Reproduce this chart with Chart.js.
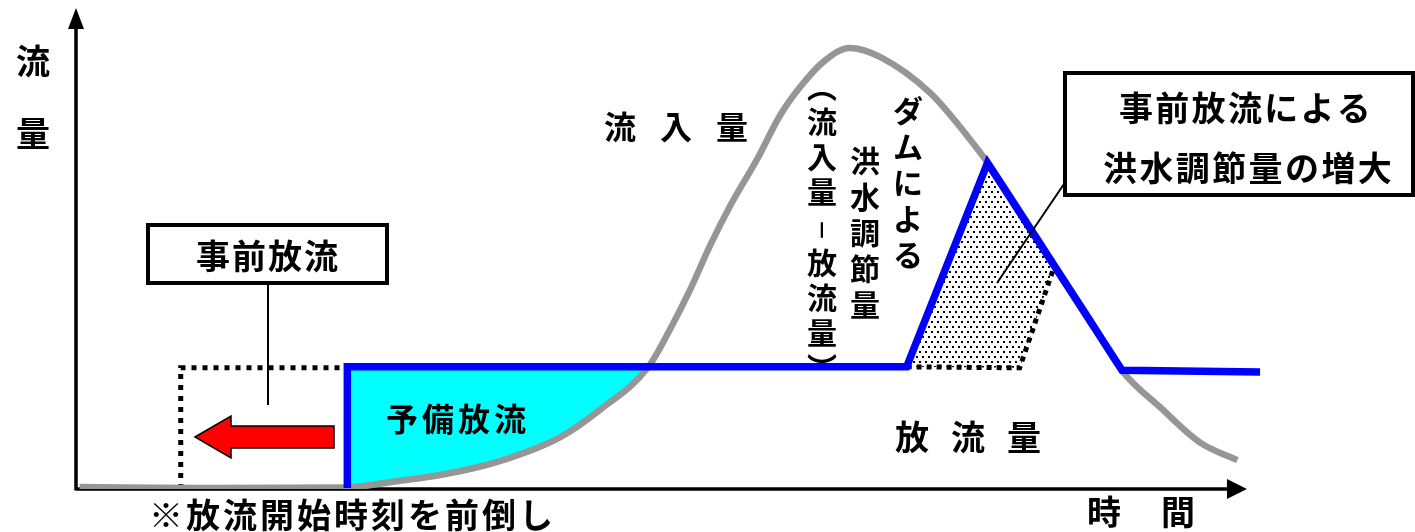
<!DOCTYPE html>
<html>
<head>
<meta charset="utf-8">
<script src="https://cdn.jsdelivr.net/npm/chart.js@4.4.1/dist/chart.umd.min.js"></script>
<style>
  html, body { margin: 0; padding: 0; background: #fff; }
  canvas { display: block; }
</style>
</head>
<body>
<canvas id="flowChart" width="1415" height="532"></canvas>
<script>
// time axis 0..100, flow axis 0..100 (relative units)
const inflowTime = [0.3, 10.4, 22.6, 27.2, 30.6, 35.6, 40.7, 44.0, 48.1, 49.9, 51.6, 53.3, 55.0, 57.2, 59.2, 60.8, 62.8, 65.0, 67.6, 71.8, 74.9, 76.8, 80.2, 82.7, 85.2, 87.9, 91.1, 94.5, 97.6];
const inflowFlow = [0.4, 0.2, 0.3, 1.7, 2.9, 5.8, 10.8, 16.4, 25.4, 33.1, 41.4, 50.7, 59.0, 68.4, 77.8, 83.4, 88.8, 91.7, 89.8, 82.3, 73.4, 67.2, 54.4, 44.8, 35.3, 24.6, 17.0, 9.6, 6.0];

const outflowTime = [22.8, 22.8, 69.8, 76.6, 87.9, 99.5];
const outflowFlow = [0.2, 25.4, 25.4, 67.8, 24.7, 24.3];

// 予備放流 (top edge of the cyan area)
const reserveTime = [22.8, 48.1];
const reserveFlow = [25.4, 25.4];

// 前倒し前の放流 (dotted outline)
const earlyTime = [8.8, 8.8, 22.8];
const earlyFlow = [0, 25.2, 25.2];

// 洪水調節量の増大 (dotted boundary of the dotted area)
const extraTime = [69.8, 79.3, 82.2];
const extraFlow = [25.4, 25.2, 46.2];

const axisEndTime = 98.4;

const pts = (xs, ys) => xs.map((x, i) => ({ x, y: ys[i] }));

const JP = '"Noto Sans CJK JP", "Noto Sans CJK SC", sans-serif';

// dot pattern
const pc = document.createElement('canvas');
pc.width = 6; pc.height = 10;
const pctx = pc.getContext('2d');
pctx.fillStyle = '#000';
pctx.fillRect(1, 1, 2, 2);
pctx.fillRect(4, 6, 2, 2);
const canvas = document.getElementById('flowChart');
const dots = canvas.getContext('2d').createPattern(pc, 'repeat');

function row(ctx, s, cx0, cy, step, size) {
    ctx.font = `bold ${size}px ${JP}`;
    ctx.textAlign = 'center';
    ctx.textBaseline = 'middle';
    [...s].forEach((c, i) => {
        if (c !== ' ') ctx.fillText(c, cx0 + i * step, cy);
    });
}

function col(ctx, s, cx, cy0, step, size) {
    ctx.font = `bold ${size}px ${JP}`;
    ctx.textAlign = 'center';
    ctx.textBaseline = 'middle';
    [...s].forEach((c, i) => {
        ctx.fillText(c, cx, cy0 + i * step);
    });
}

const sketch = {
    id: 'sketch',
    beforeDatasetsDraw(chart) {
        const { ctx, chartArea: a, scales: { x, y } } = chart;
        const x0 = x.getPixelForValue(0);
        const y0 = y.getPixelForValue(0);
        const xEnd = x.getPixelForValue(axisEndTime);
        ctx.save();
        ctx.strokeStyle = '#000';
        ctx.fillStyle = '#000';
        ctx.lineWidth = 3.5;
        ctx.beginPath();
        ctx.moveTo(x0, y0);
        ctx.lineTo(xEnd - 16, y0);
        ctx.moveTo(x0, y0 + 1.5);
        ctx.lineTo(x0, a.top + 16);
        ctx.stroke();
        ctx.beginPath();
        ctx.moveTo(xEnd, y0);
        ctx.lineTo(xEnd - 20, y0 - 10);
        ctx.lineTo(xEnd - 20, y0 + 10);
        ctx.closePath();
        ctx.moveTo(x0, a.top);
        ctx.lineTo(x0 - 8, a.top + 21);
        ctx.lineTo(x0 + 8, a.top + 21);
        ctx.closePath();
        ctx.fill();
        ctx.restore();
    },
    afterDatasetsDraw(chart) {
        const { ctx } = chart;
        ctx.save();
        ctx.fillStyle = '#000';
        ctx.strokeStyle = '#000';

        // leader lines
        ctx.lineWidth = 2;
        ctx.beginPath();
        ctx.moveTo(268, 283);
        ctx.lineTo(268, 405);
        ctx.moveTo(1066, 181);
        ctx.lineTo(997, 283);
        ctx.stroke();

        // boxes
        ctx.lineWidth = 4;
        ctx.fillStyle = '#fff';
        ctx.fillRect(148, 225, 239, 58);
        ctx.strokeRect(148, 225, 239, 58);
        ctx.fillRect(1065, 73, 348, 122);
        ctx.strokeRect(1065, 73, 348, 122);

        // red arrow
        ctx.beginPath();
        ctx.moveTo(195, 437);
        ctx.lineTo(231, 416);
        ctx.lineTo(231, 426);
        ctx.lineTo(334, 426);
        ctx.lineTo(334, 448);
        ctx.lineTo(231, 448);
        ctx.lineTo(231, 458);
        ctx.closePath();
        ctx.fillStyle = '#ff0000';
        ctx.fill();
        ctx.lineWidth = 1.5;
        ctx.strokeStyle = '#000';
        ctx.stroke();

        // labels
        ctx.fillStyle = '#000';
        row(ctx, '事前放流', 213, 256, 36, 34);
        row(ctx, '予備放流', 402, 419, 36, 32);
        row(ctx, '流入量', 620, 127, 56, 32);
        row(ctx, '放流量', 912, 437, 56, 34);
        col(ctx, '流量', 33, 61, 72, 34);
        row(ctx, '時間', 1104, 512, 74, 34);
        row(ctx, '※放流開始時刻を前倒し', 166, 515, 37, 34);
        row(ctx, '事前放流による', 1136, 108, 36.3, 34);
        row(ctx, '洪水調節量の増大', 1120, 168, 36.4, 34);
        col(ctx, 'ダムによる', 908, 111, 36, 30);
        col(ctx, '洪水調節量', 865, 161, 36, 30);
        col(ctx, '︵流入量', 822, 87, 35, 30);
        col(ctx, '放流量︶', 822, 263, 35, 30);
        ctx.save();
        ctx.translate(822, 230);
        ctx.rotate(Math.PI / 2);
        ctx.font = `bold 22px ${JP}`;
        ctx.textAlign = 'center';
        ctx.textBaseline = 'middle';
        ctx.fillText('－', 0, 0);
        ctx.restore();

        ctx.restore();
    }
};

new Chart(canvas, {
    type: 'line',
    data: {
        datasets: [
            {
                label: '放流量',
                data: pts(outflowTime, outflowFlow),
                borderColor: '#0000ff',
                borderWidth: 7.5,
                borderJoinStyle: 'miter',
                tension: 0,
                pointRadius: 0,
                fill: false,
                order: 0,
            },
            {
                label: '流入量',
                data: pts(inflowTime, inflowFlow),
                borderColor: '#969696',
                borderWidth: 6.5,
                cubicInterpolationMode: 'monotone',
                pointRadius: 0,
                fill: false,
                order: 1,
            },
            {
                label: '予備放流',
                data: pts(reserveTime, reserveFlow),
                borderColor: 'rgba(0,0,0,0)',
                borderWidth: 0,
                pointRadius: 0,
                tension: 0,
                fill: { target: 1, above: '#00ffff', below: '#00ffff' },
                order: 4,
            },
            {
                label: '洪水調節量の増大',
                data: pts(extraTime, extraFlow),
                borderColor: '#000',
                borderWidth: 5,
                borderDash: [5, 5],
                pointRadius: 0,
                tension: 0,
                fill: { target: 0, above: dots, below: dots },
                order: 3,
            },
            {
                label: '事前放流',
                data: pts(earlyTime, earlyFlow),
                borderColor: '#000',
                borderWidth: 5,
                borderDash: [5, 6],
                borderJoinStyle: 'miter',
                pointRadius: 0,
                tension: 0,
                fill: false,
                order: 2,
            },
        ],
    },
    options: {
        responsive: false,
        animation: false,
        devicePixelRatio: 1,
        layout: { padding: { left: 76, right: 149, top: 8, bottom: 43 } },
        scales: {
            x: { type: 'linear', min: 0, max: 100, display: false },
            y: { type: 'linear', min: 0, max: 100, display: false },
        },
        plugins: {
            legend: { display: false },
            tooltip: { enabled: false },
        },
    },
    plugins: [sketch],
});
</script>
</body>
</html>
